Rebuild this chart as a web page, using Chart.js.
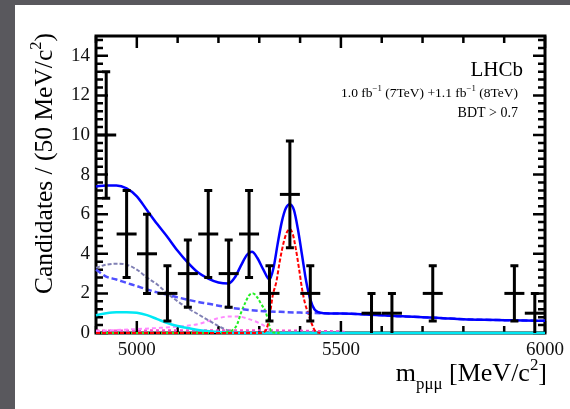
<!DOCTYPE html>
<html>
<head>
<meta charset="utf-8">
<script src="https://cdn.jsdelivr.net/npm/chart.js@4.4.1/dist/chart.umd.min.js"></script>
<style>
  html, body { margin: 0; padding: 0; background: #fff; }
  canvas { display: block; }
</style>
</head>
<body>
<canvas id="chart" width="570" height="409"></canvas>
<script>
// data points (50 MeV bins)
var binCentres = [4925, 4975, 5025, 5075, 5125, 5175, 5225, 5275, 5325, 5375, 5425, 5575, 5625, 5725, 5925, 5975];
var counts     = [10, 5, 4, 2, 3, 5, 3, 5, 2, 7, 2, 1, 1, 2, 2, 1];
var errLow     = [6.8, 2.8, 2.0, 0.6, 1.3, 2.8, 1.3, 2.8, 0.6, 4.3, 0.6, 0, 0, 0.6, 0.6, 0];
var errHigh    = [13.2, 7.2, 6.0, 3.4, 4.7, 7.2, 4.7, 7.2, 3.4, 9.7, 3.4, 2.0, 2.0, 3.4, 3.4, 2.0];

var xTickLabels = [5000, 5500, 6000];
var yTickLabels = [0, 2, 4, 6, 8, 10, 12, 14];

// fit components
var totalFit = [[4900,7.4],[4925,7.45],[4950,7.45],[4975,7.3],[5000,6.9],[5025,6.2],[5050,5.5],[5075,4.85],
  [5100,4.15],[5125,3.55],[5150,3.05],[5175,2.75],[5200,2.55],[5225,2.5],[5240,2.8],[5255,3.4],[5270,3.95],
  [5282,4.1],[5295,3.8],[5310,3.2],[5325,2.7],[5335,3.3],[5345,4.5],[5355,5.6],[5365,6.3],[5375,6.5],
  [5385,6.2],[5395,5.2],[5405,3.9],[5415,2.6],[5425,1.7],[5435,1.2],[5445,1.05],[5460,1.0],[5500,0.98],
  [5550,0.95],[5600,0.9],[5650,0.84],[5700,0.8],[5750,0.75],[5800,0.7],[5850,0.67],[5900,0.65],[5950,0.63],[6000,0.62]];
var combFit = [[4900,3.2],[4925,2.85],[4950,2.7],[4975,2.53],[5000,2.37],[5025,2.2],[5050,2.05],[5075,1.93],
  [5100,1.8],[5125,1.68],[5150,1.57],[5175,1.48],[5200,1.38],[5250,1.22],[5300,1.12],[5350,1.07],[5400,1.03],
  [5450,1.0],[5500,0.98],[5550,0.95],[5600,0.9],[5650,0.84],[5700,0.8],[5750,0.75],[5800,0.7],[5850,0.67],
  [5900,0.65],[5950,0.63],[6000,0.62]];
var partRecoFit = [[4900,3.3],[4925,3.45],[4950,3.5],[4975,3.45],[5000,3.2],[5025,2.8],[5050,2.45],[5075,2.0],
  [5100,1.6],[5125,1.25],[5150,0.95],[5175,0.65],[5200,0.35],[5225,0.12],[5250,0.02],[5300,0]];
var cyanFit = [[4900,0.9],[4925,1.0],[4950,1.05],[4975,1.05],[5000,1.02],[5025,0.9],[5050,0.7],[5075,0.5],
  [5100,0.35],[5125,0.25],[5150,0.15],[5200,0.05],[5250,0],[5500,0],[6000,0]];
var pinkFit = [[4900,0.1],[4950,0.15],[5000,0.2],[5050,0.25],[5100,0.32],[5150,0.45],[5175,0.6],[5200,0.75],
  [5225,0.83],[5250,0.83],[5275,0.7],[5300,0.5],[5315,0.32],[5330,0.05],[5350,0]];
var magentaFit = [[4900,0.12],[5000,0.13],[5100,0.14],[5200,0.14],[5300,0.14],[5400,0.12],[5450,0.1],[5500,0.08],[5520,0]];
var greenFit = [[4900,0],[5200,0],[5230,0.1],[5245,0.4],[5255,1.0],[5265,1.5],[5275,1.9],[5285,2.0],[5295,1.8],
  [5305,1.45],[5315,1.1],[5322,0.6],[5330,0.05],[5350,0]];
var signalFit = [[4900,0],[5300,0],[5315,0.1],[5325,0.8],[5333,1.9],[5342,2.6],[5350,3.6],[5360,4.6],[5368,5.1],
  [5375,5.25],[5382,5.0],[5390,4.2],[5397,3.3],[5405,2.2],[5412,1.5],[5420,1.0],[5428,0.5],[5437,0.1],[5450,0]];

var serif = '"Liberation Serif", "DejaVu Serif", serif';

function pts(arr) {
    return arr.map(function (p) { return { x: p[0], y: p[1] }; });
}

function curve(arr, color, width, dash, order) {
    return {
        data: pts(arr),
        showLine: true,
        borderColor: color,
        backgroundColor: color,
        borderWidth: width,
        borderDash: dash,
        pointRadius: 0,
        cubicInterpolationMode: 'monotone',
        clip: 3,
        order: order
    };
}

// text with sub/superscripts: parts = [[text, 0 | 1 (sup) | -1 (sub)], ...]
function richText(ctx, parts, x, y, align, size) {
    var w = 0;
    parts.forEach(function (p) {
        ctx.font = (p[1] ? size * 0.65 : size) + 'px ' + serif;
        w += ctx.measureText(p[0]).width;
    });
    var cx = align === 'right' ? x - w : x;
    ctx.textAlign = 'left';
    ctx.textBaseline = 'alphabetic';
    parts.forEach(function (p) {
        ctx.font = (p[1] ? size * 0.65 : size) + 'px ' + serif;
        var dy = p[1] === 1 ? -size * 0.42 : (p[1] === -1 ? size * 0.3 : 0);
        ctx.fillText(p[0], cx, y + dy);
        cx += ctx.measureText(p[0]).width;
    });
}

var rootFrame = {
    id: 'rootFrame',
    beforeDraw: function (chart) {
        var ctx = chart.ctx;
        ctx.save();
        ctx.fillStyle = '#59585d';
        ctx.fillRect(0, 0, chart.width, chart.height);
        ctx.fillStyle = '#ffffff';
        ctx.fillRect(15, 5, chart.width - 15, chart.height - 5);
        ctx.restore();
    },
    beforeDatasetsDraw: function (chart) {
        var ctx = chart.ctx, a = chart.chartArea;
        var xs = chart.scales.x, ys = chart.scales.y;
        ctx.save();
        ctx.strokeStyle = '#000';
        ctx.lineWidth = 3;
        ctx.strokeRect(a.left, a.top, a.right - a.left, a.bottom - a.top);
        ctx.lineWidth = 2.5;
        ctx.beginPath();
        for (var i = 0; i <= 37; i++) {
            var py = ys.getPixelForValue(i * 0.4);
            var len = (i % 5 === 0) ? 12 : 7;
            ctx.moveTo(a.left, py); ctx.lineTo(a.left + len, py);
            ctx.moveTo(a.right, py); ctx.lineTo(a.right - len, py);
        }
        for (var m = 4900; m <= 6000; m += 100) {
            var px = xs.getPixelForValue(m);
            var l2 = (m % 500 === 0) ? 12 : 7;
            ctx.moveTo(px, a.bottom); ctx.lineTo(px, a.bottom - l2);
            ctx.moveTo(px, a.top); ctx.lineTo(px, a.top + l2);
        }
        ctx.stroke();
        ctx.restore();
    },
    afterDatasetsDraw: function (chart) {
        var ctx = chart.ctx, a = chart.chartArea;
        var xs = chart.scales.x, ys = chart.scales.y;
        ctx.save();
        ctx.strokeStyle = '#000';
        ctx.lineWidth = 3;
        ctx.beginPath();
        for (var i = 0; i < binCentres.length; i++) {
            var px = xs.getPixelForValue(binCentres[i]);
            var top = ys.getPixelForValue(errHigh[i]);
            var bot = Math.min(ys.getPixelForValue(errLow[i]), a.bottom);
            ctx.moveTo(px, top); ctx.lineTo(px, bot);
            ctx.moveTo(px - 4, top); ctx.lineTo(px + 4, top);
            if (errLow[i] > 0) { ctx.moveTo(px - 4, bot); ctx.lineTo(px + 4, bot); }
        }
        ctx.stroke();

        // labels
        ctx.fillStyle = '#000';
        richText(ctx, [['LHCb', 0]], 523, 76, 'right', 21);
        richText(ctx, [['1.0 fb', 0], ['\u22121', 1], [' (7TeV) +1.1 fb', 0], ['\u22121', 1], [' (8TeV)', 0]], 518, 97, 'right', 13.5);
        richText(ctx, [['BDT > 0.7', 0]], 518, 117, 'right', 14);

        richText(ctx, [['m', 0], ['p\u03bc\u03bc', -1], [' [MeV/', 0], ['c', 0], ['2', 1], [']', 0]], 547, 381, 'right', 26);

        ctx.translate(52, 33);
        ctx.rotate(-Math.PI / 2);
        richText(ctx, [['Candidates / (50 MeV/', 0], ['c', 0], ['2', 1], [')', 0]], 0, 0, 'right', 25.5);
        ctx.restore();
    }
};

var datasets = [
    {
        data: binCentres.map(function (m, i) { return { x: m, y: counts[i] }; }),
        pointStyle: 'line',
        pointRadius: 10,
        borderColor: '#000',
        borderWidth: 3,
        order: 0
    },
    curve(totalFit, '#0000ff', 2.5, [], 1),
    curve(combFit, '#5050ff', 2.5, [6, 3], 2),
    curve(signalFit, '#ff0000', 2, [4, 2], 3),
    curve(greenFit, '#22ee22', 2, [3, 2], 4),
    curve(cyanFit, '#00e8f4', 2.5, [], 5),
    curve(partRecoFit, '#8080b4', 2, [4, 2], 6),
    curve(pinkFit, '#ff88ff', 2, [4, 3], 7),
    curve(magentaFit, '#ff44cc', 2, [3, 3], 8)
];

var ctx = document.getElementById('chart').getContext('2d');
var chart = new Chart(ctx, {
    type: 'scatter',
    data: { datasets: datasets },
    options: {
        responsive: false,
        animation: false,
        layout: { padding: { left: 15, top: 36, right: 24, bottom: 0 } },
        plugins: { legend: { display: false }, tooltip: { enabled: false } },
        scales: {
            x: {
                type: 'linear',
                min: 4900,
                max: 6000,
                grid: { display: false, drawTicks: false },
                border: { display: false },
                afterBuildTicks: function (s) { s.ticks = xTickLabels.map(function (v) { return { value: v }; }); },
                afterFit: function (s) { s.height = 76; },
                ticks: { font: { family: serif, size: 19 }, color: '#111', padding: 6, maxRotation: 0,
                         callback: function (v) { return String(v); } }
            },
            y: {
                type: 'linear',
                min: 0,
                max: 15,
                grid: { display: false, drawTicks: false },
                border: { display: false },
                afterBuildTicks: function (s) { s.ticks = yTickLabels.map(function (v) { return { value: v }; }); },
                afterFit: function (s) { s.width = 81; },
                ticks: { font: { family: serif, size: 19 }, color: '#111', padding: 6,
                         callback: function (v) { return String(v); } }
            }
        }
    },
    plugins: [rootFrame]
});
</script>
</body>
</html>
